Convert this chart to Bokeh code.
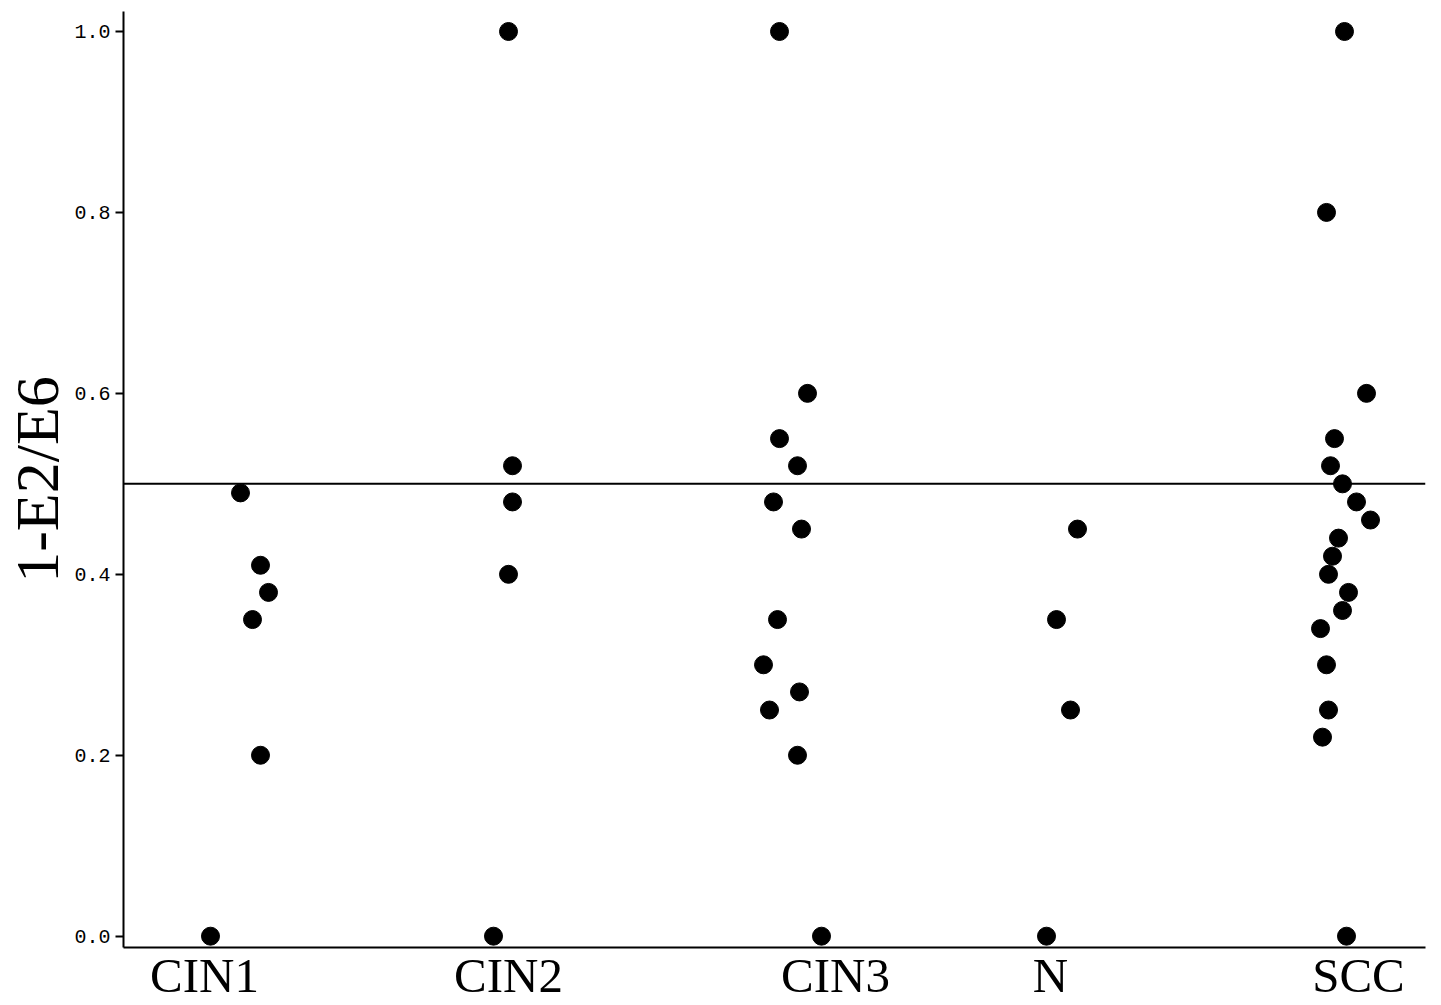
from bokeh.plotting import figure
from bokeh.models import ColumnDataSource, Span, FixedTicker, Range1d
from bokeh.embed import file_html
from bokeh.resources import INLINE

# Categories and their positions along the x axis (arbitrary units)
categories = ["CIN1", "CIN2", "CIN3", "N", "SCC"]
category_pos = [81, 385, 712, 927, 1235]

# Values per group (1-E2/E6) and horizontal jitter offsets (same x units)
cin1_y = [0.0, 0.49, 0.41, 0.38, 0.35, 0.20]
cin1_dx = [6, 36, 56, 64, 48, 56]
cin2_y = [1.0, 0.52, 0.48, 0.40, 0.0]
cin2_dx = [0, 4, 4, 0, -15]
cin3_y = [1.0, 0.60, 0.55, 0.52, 0.48, 0.45, 0.35, 0.30, 0.27, 0.25, 0.20, 0.0]
cin3_dx = [-56, -28, -56, -38, -62, -34, -58, -72, -36, -66, -38, -14]
n_y = [0.45, 0.35, 0.25, 0.0]
n_dx = [27, 6, 20, -4]
scc_y = [1.0, 0.80, 0.60, 0.55, 0.52, 0.50, 0.48, 0.46, 0.44, 0.42, 0.40,
         0.38, 0.36, 0.34, 0.30, 0.25, 0.22, 0.0]
scc_dx = [-14, -32, 8, -24, -28, -16, -2, 12, -20, -26, -30,
          -10, -16, -38, -32, -30, -36, -12]

y_ticks = [0.0, 0.2, 0.4, 0.6, 0.8, 1.0]
cutoff = 0.5

groups = [(cin1_y, cin1_dx), (cin2_y, cin2_dx), (cin3_y, cin3_dx),
          (n_y, n_dx), (scc_y, scc_dx)]
xs, ys = [], []
for pos, (gy, gdx) in zip(category_pos, groups):
    for v, d in zip(gy, gdx):
        xs.append(pos + d)
        ys.append(v)
src = ColumnDataSource(dict(x=xs, y=ys))

p = figure(width=1433, height=1005, output_backend="svg", toolbar_location=None,
           x_range=Range1d(0, 1302), y_range=Range1d(-0.0125, 1.0221),
           min_border_left=123, min_border_right=8, min_border_top=11,
           min_border_bottom=10)
p.outline_line_color = None
p.grid.visible = False
p.background_fill_color = "white"

p.scatter("x", "y", source=src, size=18, color="black")
p.add_layout(Span(location=cutoff, dimension="width", line_color="black", line_width=2))

# y axis
ya = p.yaxis[0]
ya.ticker = FixedTicker(ticks=y_ticks)
ya.major_label_overrides = {t: f"{t:.1f}" for t in y_ticks}
ya.axis_label = "1-E2/E6"
ya.axis_label_text_font = "Liberation Serif"
ya.axis_label_text_font_size = "62px"
ya.axis_label_text_font_style = "normal"
ya.axis_label_text_color = "black"
ya.axis_label_standoff = 0
ya.major_label_text_font = "Liberation Mono"
ya.major_label_text_font_size = "20px"
ya.major_label_text_color = "black"
ya.major_label_standoff = 5
ya.major_tick_out = 8
ya.major_tick_in = 0
ya.minor_tick_out = 0
ya.minor_tick_in = 0
ya.axis_line_width = 2
ya.major_tick_line_width = 2

# x axis
xa = p.xaxis[0]
xa.ticker = FixedTicker(ticks=category_pos)
xa.major_label_overrides = {pos: c for pos, c in zip(category_pos, categories)}
xa.major_label_text_font = "Liberation Serif"
xa.major_label_text_font_size = "49px"
xa.major_label_text_color = "black"
xa.major_label_text_line_height = 0.8
xa.major_label_standoff = 0
xa.major_tick_out = 0
xa.major_tick_in = 0
xa.minor_tick_out = 0
xa.minor_tick_in = 0
xa.axis_line_width = 2

open("out.html", "w").write(file_html(p, INLINE))
